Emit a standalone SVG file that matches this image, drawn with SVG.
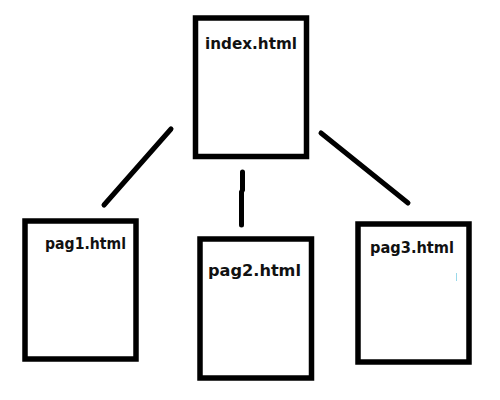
<svg xmlns="http://www.w3.org/2000/svg" width="500" height="400" viewBox="0 0 500 400">
<style>
.page{fill:#fff;stroke:#000;stroke-width:5.5}
.lbl{font-family:"DejaVu Sans","Verdana",sans-serif;font-weight:bold;font-size:15px;fill:#111}
.conn{stroke:#000;stroke-width:5;stroke-linecap:round;fill:none}
</style>
<rect width="500" height="400" fill="#fff"/>
<g id="connectors">
<line class="conn" x1="171" y1="129" x2="104" y2="205"/>
<polyline class="conn" points="242.5,172 242.5,190 241.5,192 241.5,225"/>
<line class="conn" x1="321" y1="133" x2="408" y2="203"/>
</g>
<g id="index">
<rect class="page" x="195.5" y="18" width="111" height="138.5"/>
<text class="lbl" x="205" y="49" textLength="92" lengthAdjust="spacingAndGlyphs">index.html</text>
</g>
<g id="pag1">
<rect class="page" x="25" y="221" width="111" height="138"/>
<text class="lbl" x="45" y="249" textLength="81" lengthAdjust="spacingAndGlyphs">pag1.html</text>
</g>
<g id="pag2">
<rect class="page" x="200" y="239" width="111.5" height="139"/>
<text class="lbl" x="208" y="276" textLength="93" lengthAdjust="spacingAndGlyphs">pag2.html</text>
</g>
<g id="pag3">
<rect class="page" x="358" y="224" width="111" height="138"/>
<text class="lbl" x="370" y="252.5" textLength="84" lengthAdjust="spacingAndGlyphs">pag3.html</text>
<line x1="456.5" y1="273" x2="456.5" y2="281" stroke="#99d9ea" stroke-width="1"/>
</g>
</svg>
